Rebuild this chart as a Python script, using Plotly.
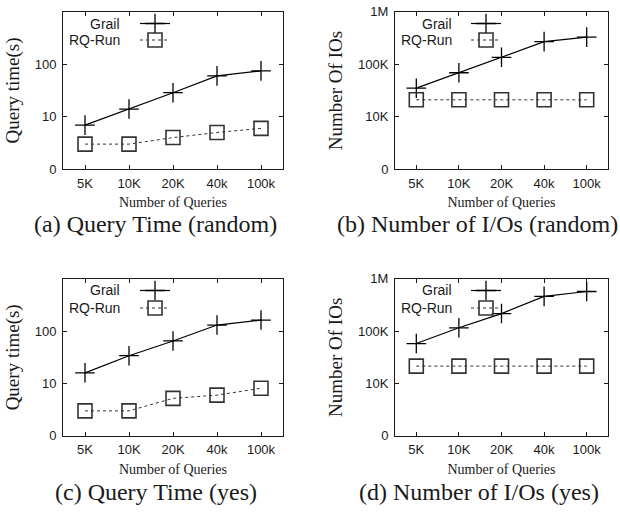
import plotly.graph_objects as go

# ---------------- data ----------------
queries = ["5K", "10K", "20K", "40k", "100k"]

time_random_grail = [6.9, 14, 28.7, 60, 75]
time_random_rq = [3.0, 3.0, 4.0, 5.0, 6.0]

ios_random_grail = [35000, 69000, 136000, 270000, 330000]
ios_random_rq = [21000, 21000, 21000, 21000, 21000]

time_yes_grail = [16, 34, 65, 131, 163]
time_yes_rq = [3.0, 3.0, 5.2, 6.0, 8.1]

ios_yes_grail = [58000, 116000, 217000, 462000, 573000]
ios_yes_rq = [21500, 21500, 21500, 21500, 21500]

time_tick_vals = [1, 10, 100]
time_tick_text = ["0", "10", "100"]
io_tick_vals = [1000, 10000, 100000, 1000000]
io_tick_text = ["0", "10K", "100K", "1M"]

series_names = ["Grail", "RQ-Run"]
captions = ["(a) Query Time (random)", "(b) Number of I/Os (random)",
            "(c) Query Time (yes)", "(d) Number of I/Os (yes)"]
x_title = "Number of Queries"
y_titles = ["Query time(s)", "Number Of IOs", "Query time(s)", "Number Of IOs"]

# ---------------- layout geometry ----------------
W, H = 620, 515
SANS = "Liberation Sans, Arial, sans-serif"
SERIF = "Liberation Serif, Times New Roman, serif"
INK = "#1a1a1a"

panels = [
    dict(x=(63, 283), y=(5, 167), grail=time_random_grail, rq=time_random_rq,
         tv=time_tick_vals, tt=time_tick_text, yr=[0, 3]),
    dict(x=(395, 608), y=(5, 167), grail=ios_random_grail, rq=ios_random_rq,
         tv=io_tick_vals, tt=io_tick_text, yr=[3, 6]),
    dict(x=(63, 283), y=(280, 441.7), grail=time_yes_grail, rq=time_yes_rq,
         tv=time_tick_vals, tt=time_tick_text, yr=[0, 3]),
    dict(x=(395, 608), y=(280, 441.7), grail=ios_yes_grail, rq=ios_yes_rq,
         tv=io_tick_vals, tt=io_tick_text, yr=[3, 6]),
]
legend_marker_x = [155, 486, 155, 486]
legend_label_right = [122, 454, 122, 454]
legend_item_y = [(17, 34), (17, 34), (292, 310), (292, 310)]
caption_pos = [(155, 223), (477, 223), (156, 500), (479, 500)]


def px(v):
    return v / W


def py(v):
    return 1 - v / H


fig = go.Figure()
layout = dict(
    width=W, height=H,
    margin=dict(l=0, r=0, t=0, b=0),
    paper_bgcolor="white", plot_bgcolor="white",
    showlegend=True,
    annotations=[],
)

styles = [
    dict(line=dict(color="black", width=1.2),
         marker=dict(symbol="cross-thin-open", size=14,
                     line=dict(color="black", width=1.3))),
    dict(line=dict(color="#333333", width=1, dash="dot"),
         marker=dict(symbol="square-open", size=14,
                     line=dict(color="#555555", width=1.6))),
]

leg_idx = 0
for i, p in enumerate(panels):
    n = "" if i == 0 else str(i + 1)
    xa, ya = "x" + n, "y" + n
    for k, (name, vals) in enumerate(zip(series_names, [p["grail"], p["rq"]])):
        leg_idx += 1
        leg = "legend" if leg_idx == 1 else "legend" + str(leg_idx)
        fig.add_trace(go.Scatter(
            x=queries, y=vals, name=name, mode="lines+markers",
            xaxis=xa, yaxis=ya, legend=leg, **styles[k],
        ))
        layout[leg] = dict(
            x=px(legend_marker_x[i] - 20), y=py(legend_item_y[i][k]),
            xanchor="left", yanchor="middle", bgcolor="rgba(0,0,0,0)",
            borderwidth=0, itemwidth=30,
            font=dict(family=SANS, size=8, color="rgba(0,0,0,0)"),
        )
        layout["annotations"].append(dict(
            x=px(legend_label_right[i]), y=py(legend_item_y[i][k]),
            xref="paper", yref="paper", xanchor="right", yanchor="middle",
            text=name, showarrow=False,
            font=dict(family=SANS, size=14, color=INK),
        ))
    axis_common = dict(showline=True, linecolor=INK, linewidth=1,
                       ticks="inside", tickcolor=INK, ticklen=4,
                       mirror="allticks", showgrid=False, zeroline=False,
                       tickfont=dict(family=SANS, size=13, color=INK))
    layout["xaxis" + n] = dict(
        axis_common, domain=[px(p["x"][0]), px(p["x"][1])], anchor=ya,
        type="category", categoryorder="array", categoryarray=queries,
        range=[-0.5, 4.5], ticklabelstandoff=2,
        title=dict(text=x_title, font=dict(family=SERIF, size=14, color=INK),
                   standoff=7),
    )
    layout["yaxis" + n] = dict(
        axis_common, domain=[py(p["y"][1]), py(p["y"][0])], anchor=xa,
        type="log", range=p["yr"], tickvals=p["tv"], ticktext=p["tt"],
        ticklabelstandoff=3,
        title=dict(text=y_titles[i], font=dict(family=SERIF, size=19, color=INK),
                   standoff=10),
    )
    cx, cy = caption_pos[i]
    layout["annotations"].append(dict(
        x=px(cx), y=py(cy), xref="paper", yref="paper",
        xanchor="center", yanchor="middle", text=captions[i], showarrow=False,
        font=dict(family=SERIF, size=24, color=INK),
    ))

fig.update_layout(**layout)
fig.write_html("out.html",
               config={"displayModeBar": False},
               post_script="document.body.style.margin='0px';"
                           "document.body.style.overflow='hidden';")
